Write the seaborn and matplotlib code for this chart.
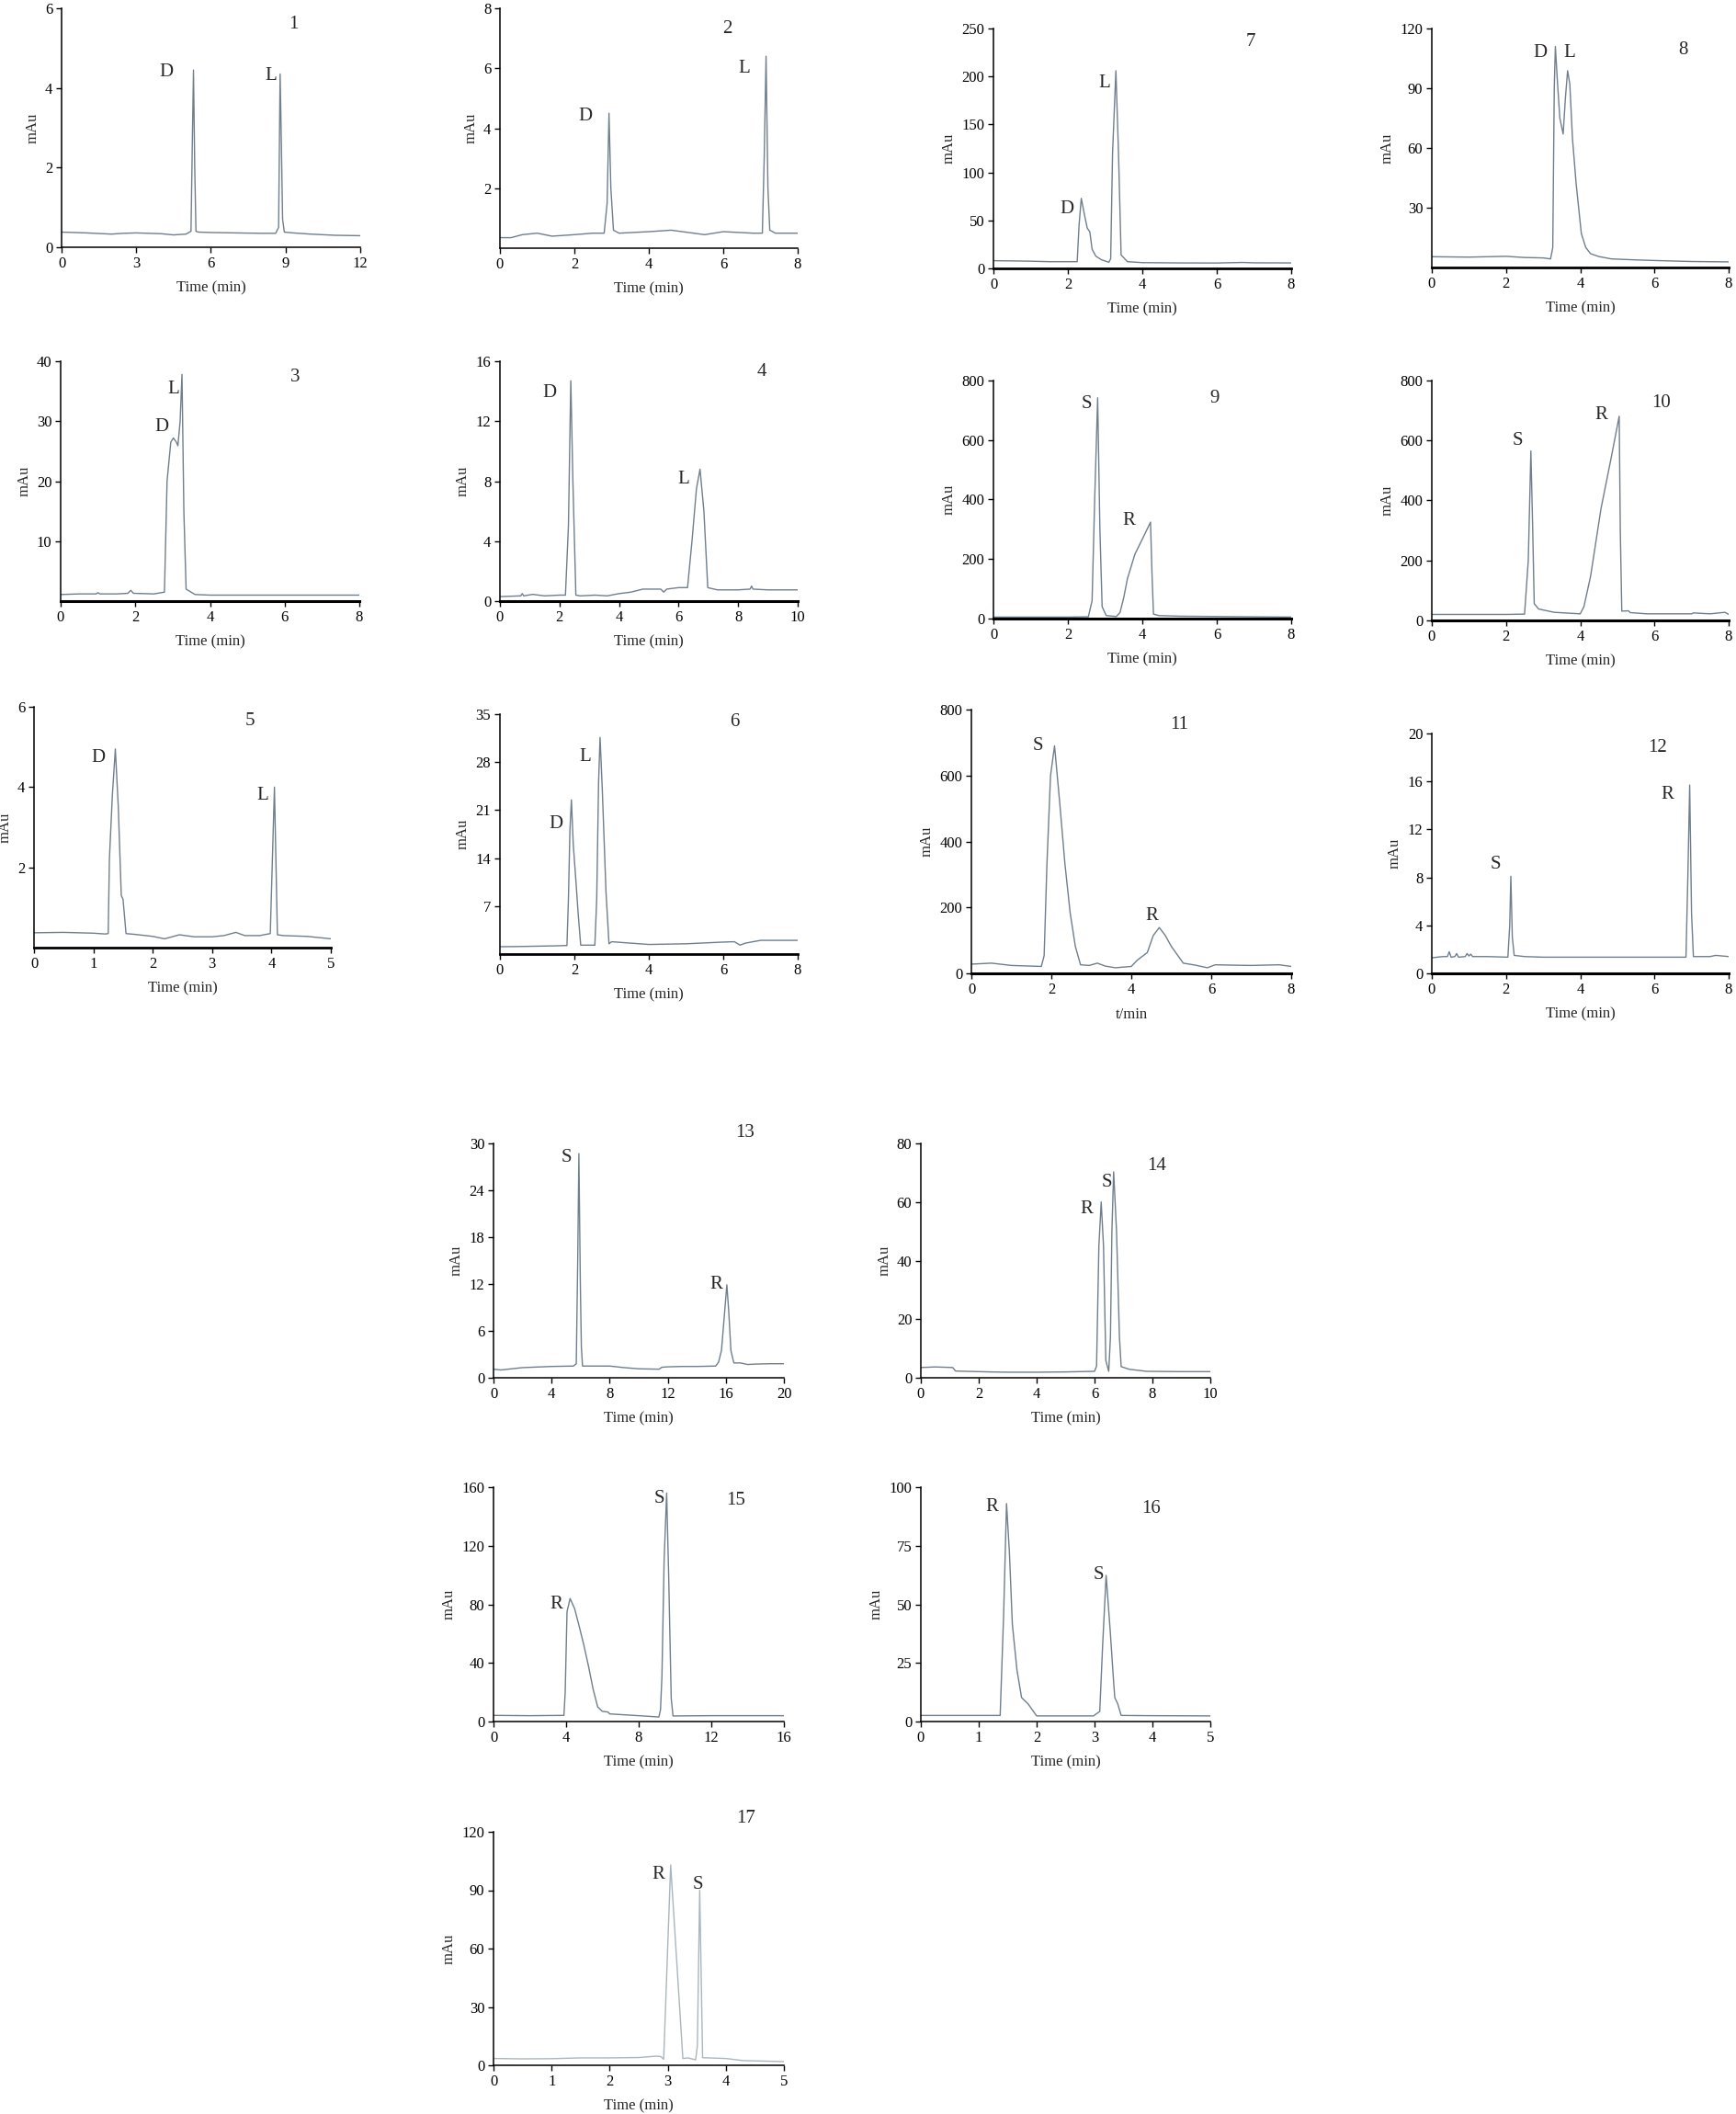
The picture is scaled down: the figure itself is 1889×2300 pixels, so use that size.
import matplotlib
matplotlib.use("Agg")
import matplotlib.pyplot as plt
import seaborn as sns

# chromatogram traces: retention time (min) and absorbance (mAu)
t1 = [0, 1, 2, 2.5, 3, 4, 4.5, 5.0, 5.2, 5.25, 5.3, 5.35, 5.4, 5.5, 6, 7, 8, 8.6, 8.72, 8.78, 8.82, 8.88, 8.95, 9.3, 10, 11, 12]
a1 = [0.38, 0.36, 0.33, 0.35, 0.36, 0.34, 0.31, 0.33, 0.4, 2.5, 4.45, 2.0, 0.4, 0.38, 0.37, 0.36, 0.35, 0.35, 0.5, 4.35, 3.0, 0.7, 0.38, 0.36, 0.33, 0.30, 0.29]

t2 = [0, 0.3, 0.6, 1.0, 1.4, 2.0, 2.5, 2.8, 2.88, 2.93, 2.98, 3.05, 3.2, 4, 4.6, 5.5, 6, 6.8, 7.05, 7.1, 7.15, 7.2, 7.25, 7.4, 8]
a2 = [0.35, 0.35, 0.45, 0.5, 0.4, 0.45, 0.5, 0.5, 1.5, 4.5, 2.0, 0.6, 0.5, 0.55, 0.6, 0.45, 0.55, 0.5, 0.5, 3.0, 6.4, 2.0, 0.6, 0.5, 0.5]

t3 = [0, 0.5, 0.95, 1.0, 1.05, 1.5, 1.8, 1.88, 1.95, 2.5, 2.78, 2.85, 2.95, 3.02, 3.1, 3.14, 3.2, 3.25, 3.3, 3.36, 3.6, 4, 5, 6, 7, 8]
a3 = [1.1, 1.2, 1.2, 1.4, 1.2, 1.2, 1.3, 1.8, 1.3, 1.2, 1.5, 20, 26.5, 27.2, 26.5, 25.9, 30, 37.8, 15, 2.0, 1.1, 1.0, 1.0, 1.0, 1.0, 1.0]

t4 = [0, 0.7, 0.75, 0.8, 1.1, 1.5, 2.0, 2.2, 2.3, 2.38, 2.45, 2.55, 2.7, 3.2, 3.6, 4.0, 4.4, 4.8, 5.4, 5.5, 5.6, 6.0, 6.3, 6.45, 6.6, 6.72, 6.85, 6.98, 7.3, 8.0, 8.4, 8.45, 8.5, 9, 10]
a4 = [0.3, 0.35, 0.5, 0.35, 0.45, 0.35, 0.4, 0.4, 5.0, 14.7, 8.0, 0.4, 0.35, 0.4, 0.35, 0.5, 0.6, 0.8, 0.8, 0.6, 0.8, 0.9, 0.9, 4.0, 7.5, 8.8, 6.0, 0.9, 0.75, 0.75, 0.8, 1.0, 0.8, 0.75, 0.75]

t5 = [0, 0.5, 1.0, 1.2, 1.25, 1.27, 1.32, 1.37, 1.42, 1.47, 1.5, 1.55, 1.7, 2.0, 2.2, 2.45, 2.7, 3.0, 3.2, 3.4, 3.55, 3.8, 3.98, 4.05, 4.1, 4.2, 4.6, 5.0]
a5 = [0.37, 0.38, 0.36, 0.34, 0.35, 2.2, 3.8, 4.95, 3.5, 1.3, 1.2, 0.35, 0.33, 0.28, 0.22, 0.32, 0.27, 0.27, 0.3, 0.38, 0.3, 0.3, 0.35, 4.0, 0.32, 0.3, 0.28, 0.22]

t6 = [0, 0.5, 1.0, 1.5, 1.8, 1.84, 1.88, 1.92, 1.97, 2.05, 2.1, 2.17, 2.4, 2.55, 2.6, 2.65, 2.69, 2.75, 2.85, 2.93, 3.0, 3.5, 4, 5, 6, 6.3, 6.45, 6.6, 7, 8]
a6 = [1.07, 1.1, 1.15, 1.2, 1.25, 8, 18, 22.5, 16, 10, 6, 1.3, 1.3, 1.3, 8, 25, 31.6, 24, 9, 1.5, 1.8, 1.6, 1.4, 1.5, 1.75, 1.8, 1.3, 1.6, 2.0, 2.0]

t7 = [0, 0.5, 1, 1.5, 2, 2.25, 2.3, 2.36, 2.45, 2.52, 2.59, 2.65, 2.75, 2.9, 3.1, 3.15, 3.2, 3.29, 3.36, 3.43, 3.6, 4, 5, 6, 6.7, 7, 8]
a7 = [8, 7.8, 7.5, 7, 7, 7, 45, 73, 55, 42, 38, 20, 12.8, 9, 6.4, 10, 120, 206, 120, 14, 7, 6, 5.7, 5.6, 6.2, 5.8, 5.7]

t8 = [0, 1, 2, 2.5, 3, 3.2, 3.26, 3.3, 3.33, 3.38, 3.45, 3.54, 3.6, 3.66, 3.72, 3.79, 3.89, 4.03, 4.15, 4.28, 4.5, 4.84, 5.5, 6, 7, 8]
a8 = [5.4, 5.2, 5.6, 5.0, 4.8, 4.3, 10, 90, 111, 95, 75, 67, 85, 98.8, 92, 65, 42, 17, 10, 6.9, 5.5, 4.3, 3.8, 3.5, 3.0, 2.8]

t9 = [0, 1, 2, 2.55, 2.65, 2.72, 2.8, 2.86, 2.92, 3.03, 3.3, 3.4, 3.5, 3.6, 3.8, 4.0, 4.22, 4.26, 4.3, 4.45, 5, 6, 7, 8]
a9 = [5, 5, 5, 6, 60, 400, 742, 300, 40, 10, 7, 20, 70, 134, 216, 267, 324, 150, 15, 10, 8, 7, 6, 5]

t10 = [0, 1, 2, 2.5, 2.6, 2.67, 2.72, 2.76, 2.88, 3.3, 4.0, 4.1, 4.28, 4.56, 4.84, 5.05, 5.08, 5.12, 5.3, 5.35, 5.8, 7.0, 7.05, 7.5, 7.9, 8]
a10 = [20, 20, 20, 21, 200, 565, 300, 56, 38, 27, 22, 46, 148, 373, 546, 681, 300, 31, 32, 26, 22, 22, 25, 22, 27, 20]

t11 = [0, 0.5, 1.0, 1.75, 1.82, 1.89, 1.98, 2.08, 2.21, 2.34, 2.47, 2.6, 2.73, 2.95, 3.15, 3.35, 3.6, 4.0, 4.15, 4.4, 4.55, 4.7, 4.85, 5.0, 5.3, 5.6, 5.9, 6.1, 6.5, 7.0, 7.7, 8]
a11 = [28, 31, 24, 21, 54, 332, 600, 690, 517, 332, 184, 82, 26, 24, 31, 22, 17, 21, 40, 63, 115, 139, 115, 82, 31, 25, 17, 26, 25, 24, 26, 21]

t12 = [0, 0.3, 0.42, 0.47, 0.52, 0.62, 0.67, 0.72, 0.9, 0.95, 1.0, 1.05, 1.1, 1.5, 2.05, 2.1, 2.13, 2.17, 2.22, 2.5, 3, 4, 5, 6, 6.85, 6.9, 6.95, 7.0, 7.05, 7.5, 7.65, 8]
a12 = [1.3, 1.4, 1.4, 1.8, 1.35, 1.4, 1.65, 1.35, 1.4, 1.65, 1.45, 1.6, 1.4, 1.4, 1.35, 4, 8.1, 3, 1.5, 1.4, 1.35, 1.35, 1.35, 1.35, 1.35, 8, 15.7, 5, 1.4, 1.4, 1.5, 1.4]

t13 = [0, 0.5, 2, 4, 5.5, 5.7, 5.8, 5.88, 5.98, 6.05, 6.13, 7, 8, 9, 10, 11.4, 11.6, 12, 13, 14, 15.3, 15.5, 15.7, 15.9, 16.07, 16.2, 16.35, 16.55, 17, 17.5, 18, 19, 20]
a13 = [1.1, 1.0, 1.3, 1.45, 1.5, 1.8, 15, 28.7, 12, 4, 1.5, 1.5, 1.5, 1.3, 1.15, 1.1, 1.35, 1.4, 1.45, 1.45, 1.5, 2.0, 3.5, 8, 11.9, 8.5, 3.5, 1.9, 1.9, 1.7, 1.75, 1.8, 1.8]

t14 = [0, 0.5, 1.1, 1.2, 2.4, 3, 4, 5, 6.0, 6.07, 6.15, 6.23, 6.31, 6.39, 6.49, 6.55, 6.6, 6.66, 6.76, 6.86, 6.92, 7.2, 7.8, 9, 10]
a14 = [3.5, 3.7, 3.5, 2.3, 2.0, 1.9, 1.9, 2.0, 2.2, 4, 45, 60, 45, 5.9, 2.2, 14, 50, 70.3, 50, 14, 3.8, 2.9, 2.2, 2.1, 2.1]

t15 = [0, 2, 3.88, 3.95, 4.05, 4.22, 4.47, 4.73, 4.98, 5.23, 5.49, 5.74, 5.99, 6.3, 6.41, 8, 9.11, 9.2, 9.28, 9.4, 9.54, 9.65, 9.79, 9.89, 12, 16]
a15 = [4.2, 4.0, 4.2, 20, 75, 84, 77, 64.6, 52, 38, 22, 10, 7, 6.5, 5.2, 4.0, 3.1, 8, 31, 110, 156, 100, 16, 3.8, 4.0, 4.0]

t16 = [0, 1, 1.37, 1.43, 1.48, 1.53, 1.58, 1.66, 1.74, 1.85, 2.0, 2.5, 2.98, 3.09, 3.14, 3.2, 3.27, 3.33, 3.35, 3.4, 3.46, 4, 5]
a16 = [2.6, 2.6, 2.6, 45.6, 93, 72, 41.7, 22, 10.2, 7.6, 2.4, 2.4, 2.4, 4.3, 32.5, 62.4, 39, 16.8, 10.2, 7.6, 2.6, 2.5, 2.4]

t17 = [0, 0.5, 1, 1.5, 2, 2.5, 2.8, 2.88, 2.93, 3.05, 3.26, 3.35, 3.48, 3.51, 3.55, 3.6, 4.0, 4.3, 5]
a17 = [3.5, 3.3, 3.4, 3.8, 3.8, 4.0, 4.7, 4.5, 3.1, 103, 3.5, 3.8, 2.8, 10, 90, 3.9, 3.5, 2.4, 1.9]

traces = [(t1, a1), (t2, a2), (t3, a3), (t4, a4), (t5, a5), (t6, a6), (t7, a7), (t8, a8), (t9, a9),
          (t10, a10), (t11, a11), (t12, a12), (t13, a13), (t14, a14), (t15, a15), (t16, a16), (t17, a17)]

# axis ticks for each panel
x_ticks = [[0, 3, 6, 9, 12], [0, 2, 4, 6, 8], [0, 2, 4, 6, 8], [0, 2, 4, 6, 8, 10], [0, 1, 2, 3, 4, 5],
           [0, 2, 4, 6, 8], [0, 2, 4, 6, 8], [0, 2, 4, 6, 8], [0, 2, 4, 6, 8], [0, 2, 4, 6, 8],
           [0, 2, 4, 6, 8], [0, 2, 4, 6, 8], [0, 4, 8, 12, 16, 20], [0, 2, 4, 6, 8, 10],
           [0, 4, 8, 12, 16], [0, 1, 2, 3, 4, 5], [0, 1, 2, 3, 4, 5]]
y_ticks = [[0, 2, 4, 6], [2, 4, 6, 8], [10, 20, 30, 40], [0, 4, 8, 12, 16], [2, 4, 6],
           [7, 14, 21, 28, 35], [0, 50, 100, 150, 200, 250], [30, 60, 90, 120],
           [0, 200, 400, 600, 800], [0, 200, 400, 600, 800], [0, 200, 400, 600, 800],
           [0, 4, 8, 12, 16, 20], [0, 6, 12, 18, 24, 30], [0, 20, 40, 60, 80],
           [0, 40, 80, 120, 160], [0, 25, 50, 75, 100], [0, 30, 60, 90, 120]]
x_labels = ["Time (min)"] * 10 + ["t/min"] + ["Time (min)"] * 6

# peak names per panel (enantiomers)
peak_names = [["D", "L"]] * 8 + [["S", "R"]] * 9

# layout: axes box in pixels (left, right, top, bottom), label spots, panel-number spot
boxes = [(67, 392, 9, 269), (544, 868, 9, 270), (66, 391, 393, 654), (544, 868, 393, 654),
         (37, 360, 769, 1031), (544, 868, 777, 1038), (1081, 1405, 31, 292), (1558, 1881, 31, 291),
         (1081, 1405, 414, 673), (1558, 1881, 414, 675), (1057, 1405, 772, 1059), (1558, 1881, 798, 1059),
         (537, 853, 1244, 1499), (1002, 1317, 1244, 1499), (537, 853, 1618, 1873),
         (1002, 1317, 1618, 1873), (537, 853, 1993, 2247)]
name_spots = [[(4.2, 4.4), (8.4, 4.3)], [(2.3, 4.4), (6.55, 6.0)], [(2.7, 29), (3.02, 35.3)],
              [(1.68, 13.9), (6.15, 8.1)], [(1.09, 4.74), (3.85, 3.8)], [(1.51, 19), (2.29, 28.7)],
              [(1.98, 62), (2.97, 193)], [(2.92, 108), (3.72, 108)], [(2.5, 722), (3.64, 329)],
              [(2.32, 598), (4.56, 685)], [(1.66, 689), (4.52, 174)], [(1.73, 9.1), (6.36, 14.9)],
              [(5.03, 28.2), (15.35, 12.0)], [(6.41, 66.8), (5.73, 57.7)], [(9.15, 152), (3.46, 80)],
              [(3.07, 62.4), (1.22, 91.5)], [(3.52, 93), (2.84, 98)]]
number_spots = [(9.3, 5.6), (6.1, 7.3), (6.27, 37.3), (8.8, 15.3), (3.63, 5.65), (6.3, 33.8),
                (6.9, 236), (6.78, 109), (5.94, 740), (6.18, 726), (5.2, 753), (6.08, 18.8),
                (17.3, 31.4), (8.16, 72.4), (13.37, 151), (3.97, 90.8), (4.34, 126.8)]
# panels 3-12 have a heavy bottom axis line
bottom_lw = [1.1, 1.1, 2.2, 2.2, 2.0, 2.0, 2.0, 2.0, 2.2, 2.2, 2.2, 2.2, 1.1, 1.1, 1.1, 1.1, 1.1]

sns.set_style("ticks")
plt.rcParams['font.family'] = ['Liberation Serif', 'DejaVu Serif']
plt.rcParams['axes.linewidth'] = 1.1

W, H = 1889, 2300
fig = plt.figure(figsize=(W / 100, H / 100), dpi=100)

for i, (t, a) in enumerate(traces):
    l, r, top, b = boxes[i]
    ax = fig.add_axes([l / W, 1 - b / H, (r - l) / W, (b - top) / H])
    color = "#a9b6bf" if i == 16 else "#6f7f8d"
    sns.lineplot(x=t, y=a, ax=ax, color=color, lw=1.0, estimator=None, sort=False)
    ax.set_xlim(x_ticks[i][0], x_ticks[i][-1])
    ax.set_ylim(0, y_ticks[i][-1])
    ax.set_xticks(x_ticks[i])
    ax.set_yticks(y_ticks[i])
    ax.tick_params(labelsize=12, length=4, width=1, colors="black", pad=3)
    ax.set_xlabel(x_labels[i], fontsize=12, labelpad=8)
    ax.set_ylabel("mAu", fontsize=12, labelpad=4)
    for side in ["top", "right"]:
        ax.spines[side].set_visible(False)
    ax.spines["left"].set_color("black")
    ax.spines["bottom"].set_color("black")
    ax.spines["bottom"].set_linewidth(bottom_lw[i])
    for name, (px, py) in zip(peak_names[i], name_spots[i]):
        ax.text(px, py, name, ha="center", va="center", fontsize=15)
    nx, ny = number_spots[i]
    ax.text(nx, ny, str(i + 1), ha="center", va="center", fontsize=15)

fig.savefig("out.png", dpi=100, facecolor="white")
